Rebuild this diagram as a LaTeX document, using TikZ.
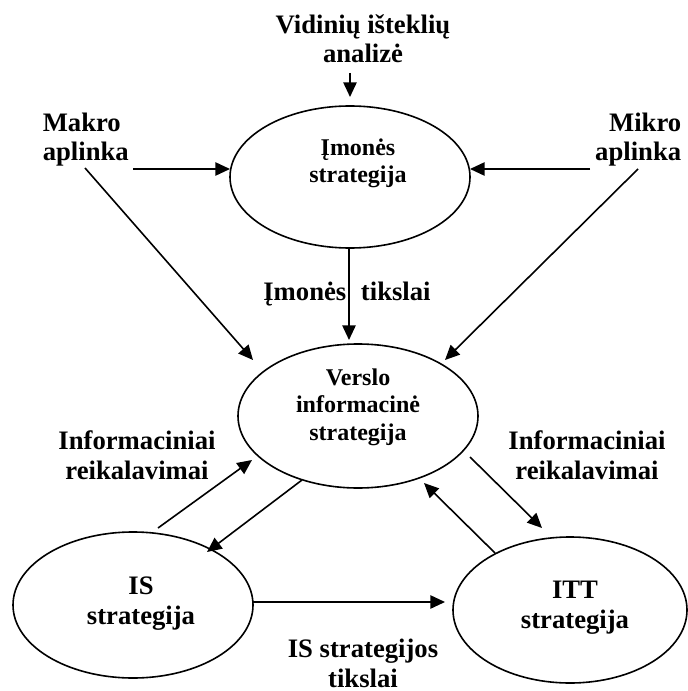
\documentclass[tikz,border=0pt]{standalone}
\usepackage{fontspec}
\setmainfont{Liberation Serif}
\usetikzlibrary{arrows.meta,shapes.geometric}
\begin{document}
\begin{tikzpicture}[x=0.75pt,y=-0.75pt,
  line width=1.2pt,
  oval/.style={draw,ellipse,inner sep=0pt},
  big/.style={font=\fontsize{20}{22}\selectfont\bfseries,inner sep=0pt},
  small/.style={font=\fontsize{18}{20.5}\selectfont\bfseries,inner sep=0pt},
  link/.style={-{Triangle[length=11pt,width=10pt]}}]
\useasboundingbox (0,0) rectangle (687,691);

% strategy ellipses
\node[oval,minimum width=180pt,minimum height=106.5pt] (imo) at (350,177) {};
\node[oval,minimum width=180pt,minimum height=108pt] (ver) at (358,416) {};
\node[oval,minimum width=180pt,minimum height=109.5pt] (is) at (133,605) {};
\node[oval,minimum width=175.5pt,minimum height=109.5pt] (itt) at (570,610) {};

% texts (anchored at the baseline of their last line)
\node[big,align=center,anchor=base] (vid) at (363,63) {Vidinių išteklių\\analizė};
\node[big,align=left,anchor=base west] (makro) at (42,161) {Makro\\aplinka};
\node[big,align=right,anchor=base east] (mikro) at (682,161) {Mikro\\aplinka};
\node[small,align=center,anchor=base] (imot) at (358,183) {Įmonės\\strategija};
\node[big,anchor=base] (tiks) at (347,300) {Įmonės\hspace{0.55em}tikslai};
\node[small,align=center,anchor=base] (vert) at (358,440) {Verslo\\informacinė\\strategija};
\node[big,align=center,anchor=base] (infl) at (137,479) {Informaciniai\\reikalavimai};
\node[big,align=center,anchor=base] (infr) at (587,479) {Informaciniai\\reikalavimai};
\node[big,align=center,anchor=base] (ist) at (141,624) {IS\\strategija};
\node[big,align=center,anchor=base] (ittt) at (575,628) {ITT\\strategija};
\node[big,align=center,anchor=base] (istk) at (363,687) {IS strategijos\\tikslai};

% connector ends
\coordinate (a1) at (350,73);   \coordinate (a2) at (350,97);
\coordinate (b1) at (133,169);  \coordinate (b2) at (230,169);
\coordinate (c1) at (590,169);  \coordinate (c2) at (470,169);
\coordinate (d1) at (85,168);   \coordinate (d2) at (253,360);
\coordinate (e1) at (638,169);  \coordinate (e2) at (445,360);
\coordinate (f2) at (349,340);
\coordinate (g1) at (158,528);  \coordinate (g2) at (252,460);
\coordinate (h1) at (302,480);  \coordinate (h2) at (207,552);
\coordinate (k1) at (470,457);  \coordinate (k2) at (542,528);
\coordinate (m1) at (495,553);  \coordinate (m2) at (424,483);
\coordinate (n1) at (253,602);  \coordinate (n2) at (445,602);

% connectors
\draw[link] (a1) -- (a2);
\draw[link] (b1) -- (b2);
\draw[link] (c1) -- (c2);
\draw[link] (d1) -- (d2);
\draw[link] (e1) -- (e2);
\draw[link] (imo.south -| f2) -- (f2);
\draw[link] (g1) -- (g2);
\draw[link] (h1) -- (h2);
\draw[link] (k1) -- (k2);
\draw[link] (m1) -- (m2);
\draw[link] (n1) -- (n2);
\end{tikzpicture}
\end{document}
